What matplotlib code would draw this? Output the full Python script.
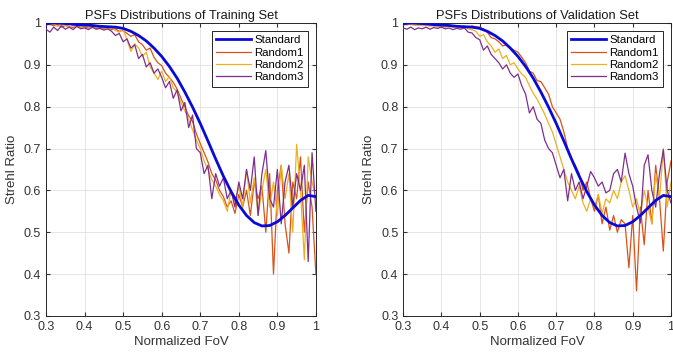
import numpy as np
import matplotlib
matplotlib.use("Agg")
import matplotlib.pyplot as plt
from matplotlib.ticker import FuncFormatter

plt.rcParams['font.family'] = ['Liberation Sans', 'DejaVu Sans']

# normalized field of view, sampled every 0.01
fov = np.round(np.linspace(0.30, 1.00, 71), 2)

# standard PSF curve (smooth)
std_x = [0.30, 0.32, 0.34, 0.36, 0.38, 0.40, 0.42, 0.44, 0.46, 0.48, 0.50, 0.52,
         0.54, 0.56, 0.58, 0.60, 0.62, 0.64, 0.66, 0.68, 0.70, 0.72, 0.74, 0.76,
         0.78, 0.80, 0.82, 0.84, 0.86, 0.88, 0.90, 0.92, 0.94, 0.96, 0.98, 1.00]
std_y = [0.998, 1.000, 0.999, 0.998, 0.996, 0.995, 0.994, 0.992, 0.991, 0.990, 0.987, 0.980,
         0.970, 0.957, 0.940, 0.920, 0.896, 0.868, 0.835, 0.799, 0.760, 0.718, 0.675, 0.634,
         0.597, 0.565, 0.540, 0.523, 0.515, 0.516, 0.525, 0.540, 0.558, 0.576, 0.588, 0.585]

# training set
train_r1 = [0.995, 0.997, 0.993, 0.996, 0.990, 0.994, 0.992, 0.989, 0.993, 0.990,
            0.991, 0.988, 0.992, 0.987, 0.990, 0.986, 0.989, 0.984, 0.986, 0.980,
            0.982, 0.975, 0.968, 0.972, 0.955, 0.948, 0.935, 0.940, 0.918, 0.905,
            0.898, 0.880, 0.870, 0.858, 0.842, 0.820, 0.800, 0.778, 0.765, 0.735,
            0.712, 0.690, 0.668, 0.640, 0.625, 0.600, 0.585, 0.560, 0.575, 0.545,
            0.590, 0.560, 0.600, 0.540, 0.620, 0.580, 0.610, 0.500, 0.640, 0.400,
            0.600, 0.660, 0.520, 0.450, 0.620, 0.580, 0.680, 0.500, 0.620, 0.560,
            0.400]
train_r2 = [0.998, 0.995, 0.997, 0.992, 0.995, 0.993, 0.990, 0.994, 0.991, 0.989,
            0.993, 0.990, 0.988, 0.991, 0.986, 0.989, 0.985, 0.988, 0.982, 0.978,
            0.985, 0.960, 0.932, 0.950, 0.940, 0.920, 0.930, 0.895, 0.880, 0.865,
            0.885, 0.860, 0.872, 0.845, 0.835, 0.810, 0.790, 0.770, 0.745, 0.720,
            0.700, 0.670, 0.650, 0.625, 0.610, 0.590, 0.575, 0.550, 0.600, 0.570,
            0.610, 0.560, 0.650, 0.570, 0.630, 0.540, 0.600, 0.650, 0.560, 0.620,
            0.540, 0.660, 0.580, 0.640, 0.500, 0.710, 0.600, 0.434, 0.680, 0.620,
            0.580]
train_r3 = [0.985, 0.978, 0.990, 0.982, 0.993, 0.985, 0.990, 0.984, 0.992, 0.986,
            0.988, 0.984, 0.990, 0.985, 0.987, 0.983, 0.986, 0.980, 0.970, 0.975,
            0.955, 0.962, 0.940, 0.948, 0.915, 0.925, 0.895, 0.905, 0.880, 0.890,
            0.870, 0.845, 0.860, 0.820, 0.840, 0.790, 0.810, 0.750, 0.780, 0.700,
            0.690, 0.640, 0.660, 0.580, 0.640, 0.610, 0.630, 0.580, 0.600, 0.560,
            0.620, 0.580, 0.650, 0.600, 0.680, 0.540, 0.640, 0.695, 0.580, 0.560,
            0.650, 0.520, 0.620, 0.660, 0.560, 0.640, 0.600, 0.660, 0.430, 0.690,
            0.550]

# validation set
val_r1 = [0.995, 0.998, 0.996, 0.999, 0.995, 0.997, 0.994, 0.996, 0.993, 0.995,
          0.994, 0.992, 0.995, 0.991, 0.993, 0.990, 0.992, 0.989, 0.993, 0.991,
          0.990, 0.985, 0.978, 0.965, 0.962, 0.955, 0.945, 0.948, 0.940, 0.935,
          0.930, 0.918, 0.905, 0.885, 0.880, 0.862, 0.860, 0.845, 0.830, 0.800,
          0.785, 0.770, 0.740, 0.700, 0.675, 0.660, 0.640, 0.600, 0.620, 0.580,
          0.550, 0.590, 0.520, 0.560, 0.505, 0.540, 0.500, 0.530, 0.520, 0.415,
          0.540, 0.360, 0.560, 0.470, 0.600, 0.520, 0.660, 0.580, 0.455, 0.620,
          0.670]
val_r2 = [0.997, 0.995, 0.998, 0.994, 0.996, 0.993, 0.995, 0.992, 0.994, 0.991,
          0.993, 0.990, 0.992, 0.989, 0.991, 0.988, 0.990, 0.986, 0.984, 0.980,
          0.968, 0.972, 0.955, 0.945, 0.930, 0.938, 0.915, 0.922, 0.900, 0.905,
          0.890, 0.878, 0.870, 0.850, 0.832, 0.818, 0.800, 0.782, 0.760, 0.740,
          0.710, 0.680, 0.650, 0.620, 0.600, 0.580, 0.610, 0.570, 0.550, 0.580,
          0.560, 0.590, 0.545, 0.580, 0.570, 0.600, 0.580, 0.620, 0.635, 0.600,
          0.560, 0.580, 0.540, 0.600, 0.560, 0.520, 0.640, 0.580, 0.700, 0.560,
          0.620]
val_r3 = [0.988, 0.985, 0.990, 0.984, 0.988, 0.986, 0.990, 0.985, 0.989, 0.987,
          0.990, 0.986, 0.988, 0.984, 0.987, 0.985, 0.988, 0.978, 0.976, 0.965,
          0.960, 0.935, 0.945, 0.925, 0.915, 0.905, 0.890, 0.900, 0.880, 0.870,
          0.878, 0.850, 0.830, 0.785, 0.800, 0.770, 0.760, 0.720, 0.700, 0.690,
          0.660, 0.630, 0.650, 0.575, 0.640, 0.600, 0.620, 0.580, 0.610, 0.645,
          0.630, 0.610, 0.620, 0.594, 0.600, 0.640, 0.650, 0.620, 0.689, 0.640,
          0.610, 0.560, 0.522, 0.660, 0.685, 0.600, 0.560, 0.640, 0.697, 0.600,
          0.570]

titles = ["PSFs Distributions of Training Set", "PSFs Distributions of Validation Set"]
labels = ["Standard", "Random1", "Random2", "Random3"]
colors = ["#0a0ad8", "#d95319", "#edb120", "#7e2f8e"]

fig = plt.figure(figsize=(6.73, 3.53), dpi=100)
ax1 = fig.add_axes([0.0684, 0.105, 0.401, 0.830])
ax2 = fig.add_axes([0.599, 0.105, 0.398, 0.830])

fmt = FuncFormatter(lambda v, p: "%g" % round(v, 2))

for ax, title, sets in [(ax1, titles[0], (train_r1, train_r2, train_r3)),
                        (ax2, titles[1], (val_r1, val_r2, val_r3))]:
    h0, = ax.plot(std_x, std_y, color=colors[0], lw=2.0, zorder=4)
    hs = []
    for d, c in zip(sets, colors[1:]):
        h, = ax.plot(fov, d, color=c, lw=0.9, zorder=3)
        hs.append(h)
    ax.set_xlim(0.3, 1.0)
    ax.set_ylim(0.3, 1.0)
    ax.set_xticks(np.round(np.arange(0.3, 1.01, 0.1), 1))
    ax.set_yticks(np.round(np.arange(0.3, 1.01, 0.1), 1))
    ax.xaxis.set_major_formatter(fmt)
    ax.yaxis.set_major_formatter(fmt)
    ax.grid(True, color="#e0e0e0", lw=0.6)
    ax.set_axisbelow(True)
    ax.tick_params(direction="in", length=3, labelsize=9, colors="#333333",
                   top=True, right=True)
    for s in ax.spines.values():
        s.set_color("#262626")
        s.set_linewidth(0.7)
    ax.set_title(title, fontsize=9.3, color="#1a1a1a", pad=3)
    ax.set_xlabel("Normalized FoV", fontsize=9.5, color="#333333", labelpad=2)
    ax.set_ylabel("Strehl Ratio", fontsize=9.5, color="#333333", labelpad=4)
    leg = ax.legend([h0] + hs, labels, loc="upper right", fontsize=8.2,
                    fancybox=False, framealpha=1, edgecolor="#262626",
                    handlelength=3.0, borderpad=0.4, labelspacing=0.2,
                    handletextpad=0.3, borderaxespad=0.7)
    leg.get_frame().set_linewidth(0.7)

fig.savefig("out.png", dpi=100)
